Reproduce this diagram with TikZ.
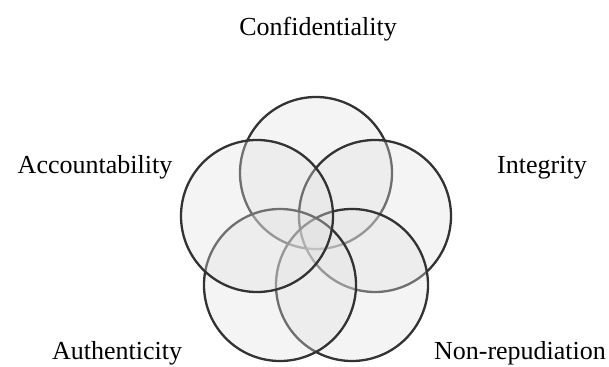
\documentclass[tikz,border=0pt]{standalone}
\usepackage{fontspec}
\setmainfont{Liberation Serif}
\usepackage{tikz}
\usetikzlibrary{positioning}

\begin{document}
\begin{tikzpicture}[
  x=1pt, y=-1pt,
  ring/.style={circle, draw=black!80, line width=2.3pt, fill=black!12,
    fill opacity=0.35, minimum size=152pt, inner sep=0pt},
  goal/.style={anchor=base, inner sep=0pt, font=\fontsize{26}{30}\selectfont}
]
\useasboundingbox (0,0) rectangle (609,366);

\node[ring] (conf) at (316,173) {};
\node[ring] (integ) at (375,216) {};
\node[ring] (nonrep) at (352,285) {};
\node[ring] (authen) at (280,285) {};
\node[ring] (account) at (257,216) {};

\node[goal] (confl) at (318,36) {Confidentiality};
\node[goal] (accountl) at (95,173) {Accountability};
\node[goal] (integl) at (542,173) {Integrity};
\node[goal] (authenl) at (117,359) {Authenticity};
\node[goal] (nonrepl) at (520,359) {Non-repudiation};
\end{tikzpicture}
\end{document}
